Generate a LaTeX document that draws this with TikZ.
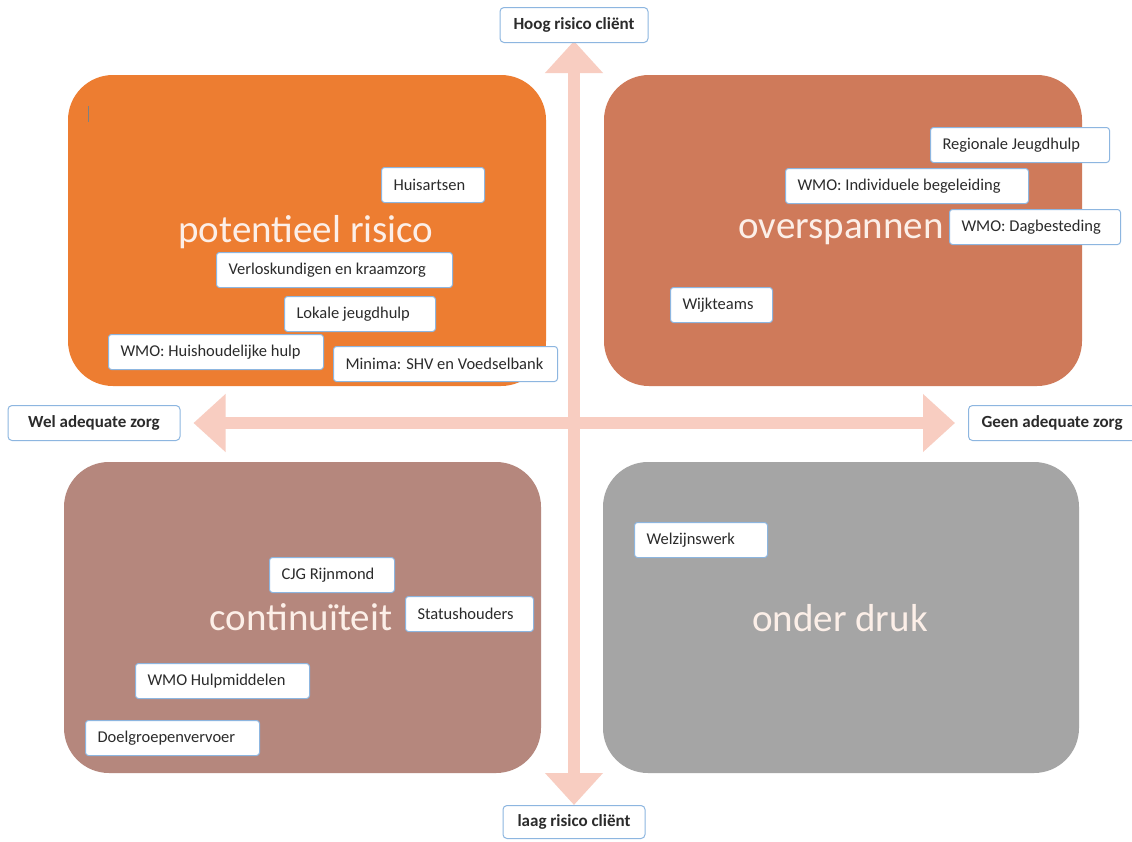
\documentclass[tikz,border=0pt]{standalone}
\usepackage{fontspec}
\setmainfont{Carlito}
\usetikzlibrary{arrows.meta,backgrounds}
\definecolor{qorange}{HTML}{ED7D31}
\definecolor{qterra}{HTML}{CF7A5A}
\definecolor{qrose}{HTML}{B5877D}
\definecolor{qgray}{HTML}{A5A5A5}
\definecolor{axpink}{HTML}{F8CDC1}
\definecolor{lblblue}{HTML}{8DB6E0}
\definecolor{txtdark}{HTML}{2B2B2B}
\definecolor{bigwhite}{HTML}{FCEFE8}
\newcommand\lbtxt[2]{\makebox[#1pt][l]{#2}}
\begin{document}
\begin{tikzpicture}[x=1pt,y=-1pt,
  quad/.style={rounded corners=45pt, draw=none},
  bigtxt/.style={text=bigwhite, font=\fontsize{39}{44}\selectfont},
  lbl/.style={draw=lblblue, line width=1pt, fill=white, rounded corners=3pt,
    font=\fontsize{16.5}{18}\selectfont, text=txtdark, anchor=west,
    minimum height=35pt, inner xsep=12pt, inner ysep=0pt},
  axlbl/.style={draw=lblblue, line width=1pt, fill=white, rounded corners=4pt,
    font=\fontsize{17}{19}\selectfont\bfseries, text=txtdark,
    minimum height=35pt, inner xsep=12pt, inner ysep=0pt},
  axisarrow/.style={draw=axpink, line width=12pt,
    {Triangle[width=56pt,length=32pt]}-{Triangle[width=56pt,length=32pt]}}
]
\useasboundingbox (0,0) rectangle (1132,841);

% quadrants
\fill[qorange, quad] (68,75) rectangle (546,386);
\fill[qterra, quad] (604,75) rectangle (1082,386);
\fill[qrose, quad] (64,462) rectangle (541,773);
\fill[qgray, quad] (603,462) rectangle (1079,773);

% cursor mark
\draw[gray, line width=0.6pt] (88,106) -- (88,122);

% axis labels
\node[axlbl, minimum width=148pt] (top) at (574,25) {Hoog risico cliënt};
\node[axlbl, minimum width=142pt, minimum height=33pt] (bot) at (574,822) {laag risico cliënt};
\node[axlbl, minimum width=172pt] (wel) at (94,423) {Wel adequate zorg};
\node[axlbl, anchor=west, inner xsep=13pt] (geen) at (968,423) {\lbtxt{160}{Geen adequate zorg}};

% axes (behind the labels)
\begin{scope}[on background layer]
\fill[white] (0,0) rectangle (1132,841);
\draw[axisarrow, shorten <=-2pt] (top.south) -- (bot.north);
\draw[axisarrow, shorten <=13pt, shorten >=13pt] (wel.east) -- (geen.west);
\end{scope}

% big titles
\node[bigtxt] (t1) at (306,232) {potentieel risico};
\node[bigtxt] (t2) at (841,232) {overspannen};
\node[bigtxt] (t3) at (301,617) {continuïteit};
\node[bigtxt] (t4) at (840,618) {onder druk};

% top-left labels
\node[lbl] (huis) at (381,185) {\lbtxt{79}{Huisartsen}};
\node[lbl] (verl) at (216,270) {\lbtxt{212}{Verloskundigen en kraamzorg}};
\node[lbl] (lok) at (284,314) {\lbtxt{127}{Lokale jeugdhulp}};
\node[lbl] (hh) at (108,352) {\lbtxt{191}{WMO: Huishoudelijke hulp}};
\node[lbl] (min) at (333,364) {\lbtxt{200}{Minima: SHV en Voedselbank}};

% top-right labels
\node[lbl] (reg) at (930,145) {\lbtxt{155}{Regionale Jeugdhulp}};
\node[lbl] (ind) at (785,186) {\lbtxt{219}{WMO: Individuele begeleiding}};
\node[lbl] (dag) at (949,227) {\lbtxt{147}{WMO: Dagbesteding}};
\node[lbl] (wijk) at (670,305) {\lbtxt{78}{Wijkteams}};

% bottom-left labels
\node[lbl] (cjg) at (269,575) {\lbtxt{101}{CJG Rijnmond}};
\node[lbl] (stat) at (405,614) {\lbtxt{104}{Statushouders}};
\node[lbl] (hulp) at (135,681) {\lbtxt{150}{WMO Hulpmiddelen}};
\node[lbl] (doel) at (85,738) {\lbtxt{150}{Doelgroepenvervoer}};

% bottom-right labels
\node[lbl] (welz) at (634,540) {\lbtxt{109}{Welzijnswerk}};
\end{tikzpicture}
\end{document}
